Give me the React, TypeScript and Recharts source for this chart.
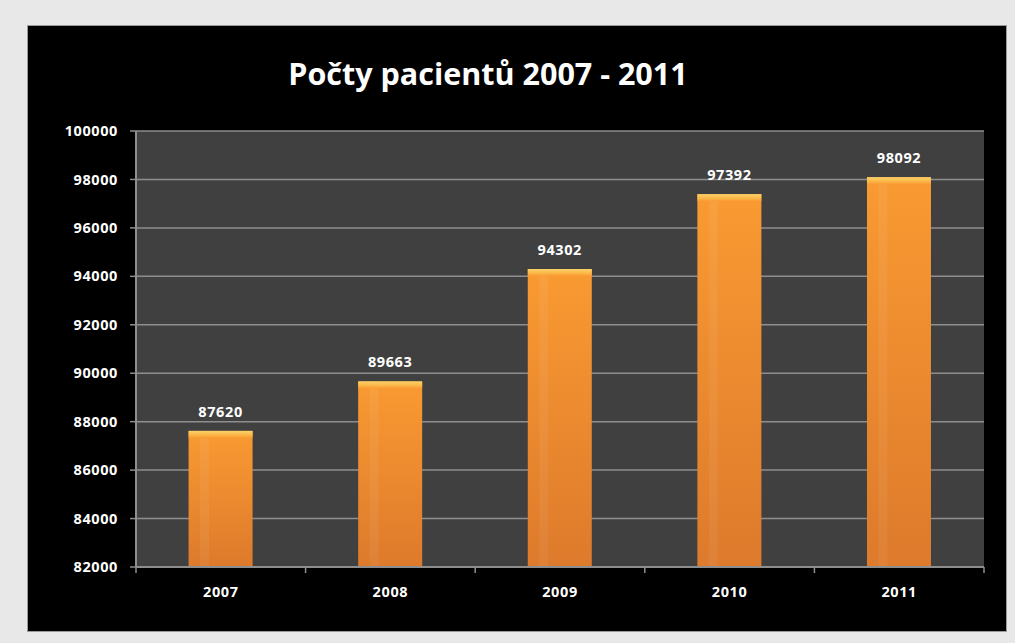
import React from "react";
import { BarChart, Bar, XAxis, YAxis, CartesianGrid, LabelList } from "recharts";

const years = ["2007", "2008", "2009", "2010", "2011"];
const patients = [87620, 89663, 94302, 97392, 98092];
const yTicks = [82000, 84000, 86000, 88000, 90000, 92000, 94000, 96000, 98000, 100000];
const title = "Počty pacientů 2007 - 2011";

const data = years.map((y, i) => ({ year: y, value: patients[i] }));

const FONT = "'Open Sans', 'DejaVu Sans', sans-serif";
const GRID = "#8e8e8e";

const BarShape = (props: any) => {
  const { x, y, width, height } = props;
  if (!height || height <= 0) return null;
  return (
    <g>
      <rect x={x} y={y} width={width} height={height} fill="url(#barGrad)" />
      <rect x={x + width * 0.18} y={y} width={width * 0.14} height={height} fill="#ffffff" opacity={0.06} />
      <rect x={x} y={y} width={width} height={Math.min(7, height)} fill="url(#topGrad)" />
    </g>
  );
};

const labelStyle = { fill: "#ffffff", fontFamily: FONT, fontWeight: 700, fontSize: 14.5, letterSpacing: 0.6 };

const XTick = (props: any) => {
  const { x, y, payload, index, visibleTicksCount } = props;
  const half = payload && typeof payload.offset === "number" ? payload.offset : 0;
  const isLast = index === visibleTicksCount - 1;
  return (
    <g>
      <line x1={x - half} x2={x - half} y1={y} y2={y + 6} stroke={GRID} strokeWidth={1.5} />
      {isLast && <line x1={x + half} x2={x + half} y1={y} y2={y + 6} stroke={GRID} strokeWidth={1.5} />}
      <text x={x} y={y + 20} dy="0.71em" textAnchor="middle" style={labelStyle as any}>
        {payload.value}
      </text>
    </g>
  );
};

export default function App() {
  return (
    <div style={{ position: "absolute", left: 0, top: 0, width: 1015, height: 643, background: "#e8e8e8", overflow: "hidden" }}>
      <div style={{ position: "absolute", left: 27, top: 25, width: 978, height: 605, background: "#000", border: "1px solid #9a9a9a" }} />
      <div style={{ position: "absolute", left: 138, width: 700, top: 53, textAlign: "center", color: "#fff", fontFamily: FONT, fontWeight: 700, fontSize: 30.5, lineHeight: "40px" }}>
        {title}
      </div>
      <div style={{ position: "absolute", left: 0, top: 0 }}>
        <BarChart width={1015} height={643} data={data} margin={{ top: 131, right: 31, bottom: 46, left: 76 }} barCategoryGap="31%">
          <defs>
            <linearGradient id="barGrad" x1="0" y1="0" x2="0" y2="1">
              <stop offset="0%" stopColor="#f99a32" />
              <stop offset="100%" stopColor="#dd7a2c" />
            </linearGradient>
            <linearGradient id="topGrad" x1="0" y1="0" x2="0" y2="1">
              <stop offset="0%" stopColor="#fbd36a" />
              <stop offset="60%" stopColor="#fbb648" />
              <stop offset="100%" stopColor="#f99a32" />
            </linearGradient>
          </defs>
          <CartesianGrid vertical={false} fill="#404040" stroke={GRID} strokeWidth={1.5} />
          <XAxis
            dataKey="year"
            axisLine={{ stroke: GRID, strokeWidth: 2 }}
            tickLine={false}
            tickSize={0}
            tickMargin={0}
            height={30}
            interval={0}
            tick={<XTick />}
          />
          <YAxis
            domain={[82000, 100000]}
            ticks={yTicks}
            interval={0}
            width={60}
            axisLine={{ stroke: GRID, strokeWidth: 2 }}
            tickLine={{ stroke: GRID, strokeWidth: 1.5 }}
            tickSize={6}
            tickMargin={12}
            tick={labelStyle}
          />
          <Bar dataKey="value" isAnimationActive={false} shape={<BarShape />}>
            <LabelList dataKey="value" position="top" offset={14} fill="#ffffff" fontFamily={FONT} fontWeight={700} fontSize={14.5} letterSpacing={0.6} />
          </Bar>
        </BarChart>
      </div>
    </div>
  );
}
